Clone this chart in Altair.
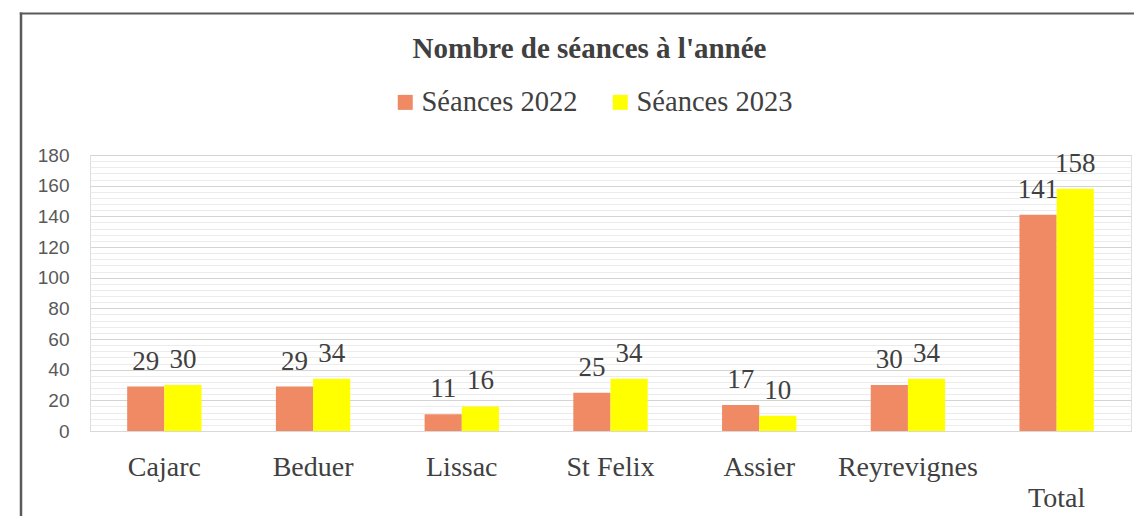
import altair as alt
import pandas as pd

categories = ["Cajarc", "Beduer", "Lissac", "St Felix", "Assier", "Reyrevignes", "Total"]
series_names = ["Séances 2022", "Séances 2023"]
seances_2022 = [29, 29, 11, 25, 17, 30, 141]
seances_2023 = [30, 34, 16, 34, 10, 34, 158]
colors = ["#EF8A65", "#FFFF00"]
y_ticks = list(range(0, 181, 4))

rows = []
for c, a, b in zip(categories, seances_2022, seances_2023):
    rows.append({"cat": c, "serie": series_names[0], "val": a})
    rows.append({"cat": c, "serie": series_names[1], "val": b})
df = pd.DataFrame(rows)

SERIF = "Liberation Serif"

x_enc = alt.X(
    "cat:N", sort=categories, title=None,
    scale=alt.Scale(paddingInner=0.5, paddingOuter=0.25),
    axis=alt.Axis(
        labelAngle=0, labelFont=SERIF, labelFontSize=28, labelColor="#404040",
        labelPadding=22, labelLineHeight=31, ticks=False, labelOverlap=False,
        grid=False, domain=True, domainColor="#d9d9d9", domainWidth=1,
        labelExpr="datum.value == 'Total' ? ['', 'Total'] : datum.label",
    ),
)
xoff = alt.XOffset("serie:N", sort=series_names, scale=alt.Scale(paddingInner=0, paddingOuter=0))
y_enc = alt.Y(
    "val:Q", title=None,
    scale=alt.Scale(domain=[0, 180], nice=False),
    axis=alt.Axis(
        values=y_ticks, ticks=False, domain=False, labelOverlap=False,
        labelFont="Liberation Sans", labelFontSize=19, labelColor="#595959",
        labelPadding=21,
        labelExpr="datum.value % 20 === 0 ? datum.label : ''",
        gridColor={"condition": {"test": "datum.value % 20 === 0", "value": "#d4d4d4"}, "value": "#ececec"},
        gridWidth=1,
    ),
)

base = alt.Chart(df)
bars = base.mark_bar().encode(
    x=x_enc, xOffset=xoff, y=y_enc,
    color=alt.Color(
        "serie:N", sort=series_names,
        scale=alt.Scale(domain=series_names, range=colors),
        legend=alt.Legend(
            title=None, orient="none", direction="horizontal",
            legendX=301, legendY=-67,
            symbolType="square", symbolSize=225, symbolStrokeWidth=0,
            labelFont=SERIF, labelFontSize=28.5, labelColor="#404040",
            labelOffset=2, columnPadding=28,
        ),
    ),
)
labels = base.mark_text(
    font=SERIF, fontSize=27, color="#404040", baseline="alphabetic", dy=-17
).encode(
    x=x_enc,
    xOffset=xoff,
    y=y_enc,
    text="val:Q",
)

frame_data = alt.Data(values=[{"k": 1}])
left_border = alt.Chart(frame_data).mark_rule(color="#5a5a5a", strokeWidth=2.5).encode(
    x=alt.value(-69), y=alt.value(-142.5), y2=alt.value(500)
)
top_border = alt.Chart(frame_data).mark_rule(color="#5a5a5a", strokeWidth=2).encode(
    x=alt.value(-70.2), x2=alt.value(1200), y=alt.value(-141.5)
)

chart = alt.layer(bars, labels, left_border, top_border).properties(
    width=1041, height=276,
    title=alt.TitleParams(
        "Nombre de séances à l'année", font=SERIF, fontSize=29, fontWeight="bold",
        color="#404040", anchor="middle", dx=-21, dy=57,
    ),
    autosize=alt.AutoSizeParams(type="none"),
    padding={"left": 82, "top": 147, "right": 3, "bottom": 85},
).configure_view(stroke=None).configure(background="white")

chart.save("out.html", embed_options={"renderer": "svg", "actions": False})
